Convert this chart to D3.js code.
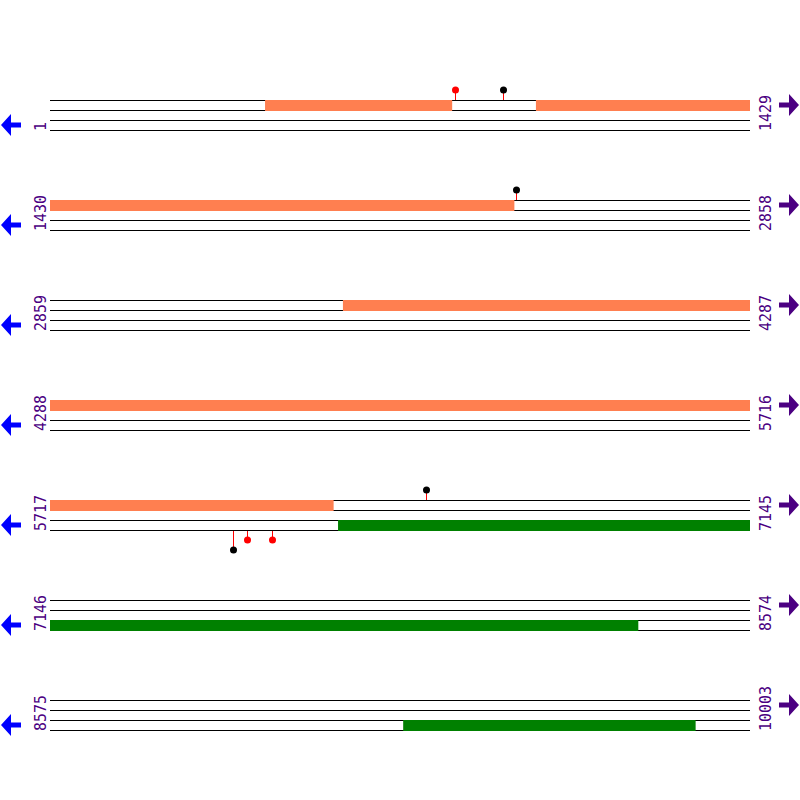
<!DOCTYPE html>
<html>
<head>
<meta charset="utf-8">
<script src="https://cdn.jsdelivr.net/npm/d3@7"></script>
<style>
  body { margin: 0; background: #fff; }
  svg { display: block; }
</style>
</head>
<body>
<svg id="map" width="800" height="800"></svg>
<script>
// sequence layout
const seqLength = 10003;
const rowSize = 1429;

// features: start, end, strand (+1 top / -1 bottom), colour
const featStart = [440, 993, 3457, 6305, 9296];
const featEnd = [821, 2377, 6295, 8346, 9892];
const featStrand = [1, 1, 1, -1, -1];
const featColor = ["coral", "coral", "coral", "green", "green"];

// sites: position, strand, colour, stack level
const sitePos = [828, 926, 2381, 6485, 6091, 6119, 6170];
const siteStrand = [1, 1, 1, 1, -1, -1, -1];
const siteColor = ["red", "black", "black", "black", "black", "red", "red"];
const siteLevel = [1, 1, 1, 1, 2, 1, 1];

const nRows = Math.ceil(seqLength / rowSize);
const rows = d3.range(nRows).map(i => ({
  i: i,
  start: i * rowSize + 1,
  end: Math.min((i + 1) * rowSize, seqLength)
}));

const svg = d3.select("#map");
const rowY = d3.scaleLinear().domain([0, 1]).range([100, 200]);
const x = d3.scaleLinear().domain([0, rowSize]).range([50, 750]);

const row = svg.selectAll(".row")
  .data(rows)
  .join("g")
  .attr("class", "row")
  .attr("transform", d => "translate(0," + rowY(d.i) + ")");

// the four strand lines
row.selectAll("line.strand")
  .data([0, 10, 20, 30])
  .join("line")
  .attr("class", "strand")
  .attr("x1", x(0)).attr("x2", x(rowSize))
  .attr("y1", d => d + 0.5).attr("y2", d => d + 0.5)
  .attr("stroke", "black")
  .attr("stroke-width", 1);

// split features over rows
const pieces = [];
featStart.forEach((s, k) => {
  rows.forEach(r => {
    const a = Math.max(s, r.start), b = Math.min(featEnd[k], r.end);
    if (a <= b) pieces.push({ row: r.i, a: a - r.start, b: b - r.start + 1, strand: featStrand[k], color: featColor[k] });
  });
});

svg.selectAll("rect.feat")
  .data(pieces)
  .join("rect")
  .attr("class", "feat")
  .attr("x", d => x(d.a))
  .attr("width", d => x(d.b) - x(d.a))
  .attr("y", d => rowY(d.row) + (d.strand > 0 ? 0 : 20))
  .attr("height", 11)
  .attr("fill", d => d.color);

// lollipop sites
const sites = sitePos.map((p, k) => {
  const r = Math.floor((p - 1) / rowSize);
  return { row: r, off: p - r * rowSize - 1, strand: siteStrand[k], color: siteColor[k], level: siteLevel[k] };
});

const site = svg.selectAll("g.site")
  .data(sites)
  .join("g")
  .attr("class", "site")
  .attr("transform", d => "translate(" + Math.round(x(d.off)) + "," + rowY(d.row) + ")");

site.append("line")
  .attr("x1", 0.5).attr("x2", 0.5)
  .attr("y1", d => d.strand > 0 ? 0 : 31)
  .attr("y2", d => d.strand > 0 ? -10 : 30 + 10 * d.level)
  .attr("stroke", "red");

site.append("circle")
  .attr("cx", 0.5)
  .attr("cy", d => d.strand > 0 ? -10 : 30 + 10 * d.level)
  .attr("r", 3.5)
  .attr("fill", d => d.color);

// position labels (relative to the row group)
const labelFont = "'DejaVu Sans Mono', monospace";
row.append("text")
  .attr("transform", "translate(46,31) rotate(-90)")
  .attr("font-family", labelFont)
  .attr("font-size", 15)
  .attr("fill", "#4b0082")
  .text(d => d.start);

row.append("text")
  .attr("transform", "translate(771,31) rotate(-90)")
  .attr("font-family", labelFont)
  .attr("font-size", 15)
  .attr("fill", "#4b0082")
  .text(d => d.end);

// strand direction arrows
const arrowLeft = "M1,25 L11,14 L11,22.5 L21,22.5 L21,27.5 L11,27.5 L11,36 Z";
const arrowRight = "M799,5 L789,-6 L789,2.5 L779,2.5 L779,7.5 L789,7.5 L789,16 Z";

row.append("path")
  .attr("d", arrowLeft)
  .attr("fill", "blue");

row.append("path")
  .attr("d", arrowRight)
  .attr("fill", "#4b0082");
</script>
</body>
</html>
